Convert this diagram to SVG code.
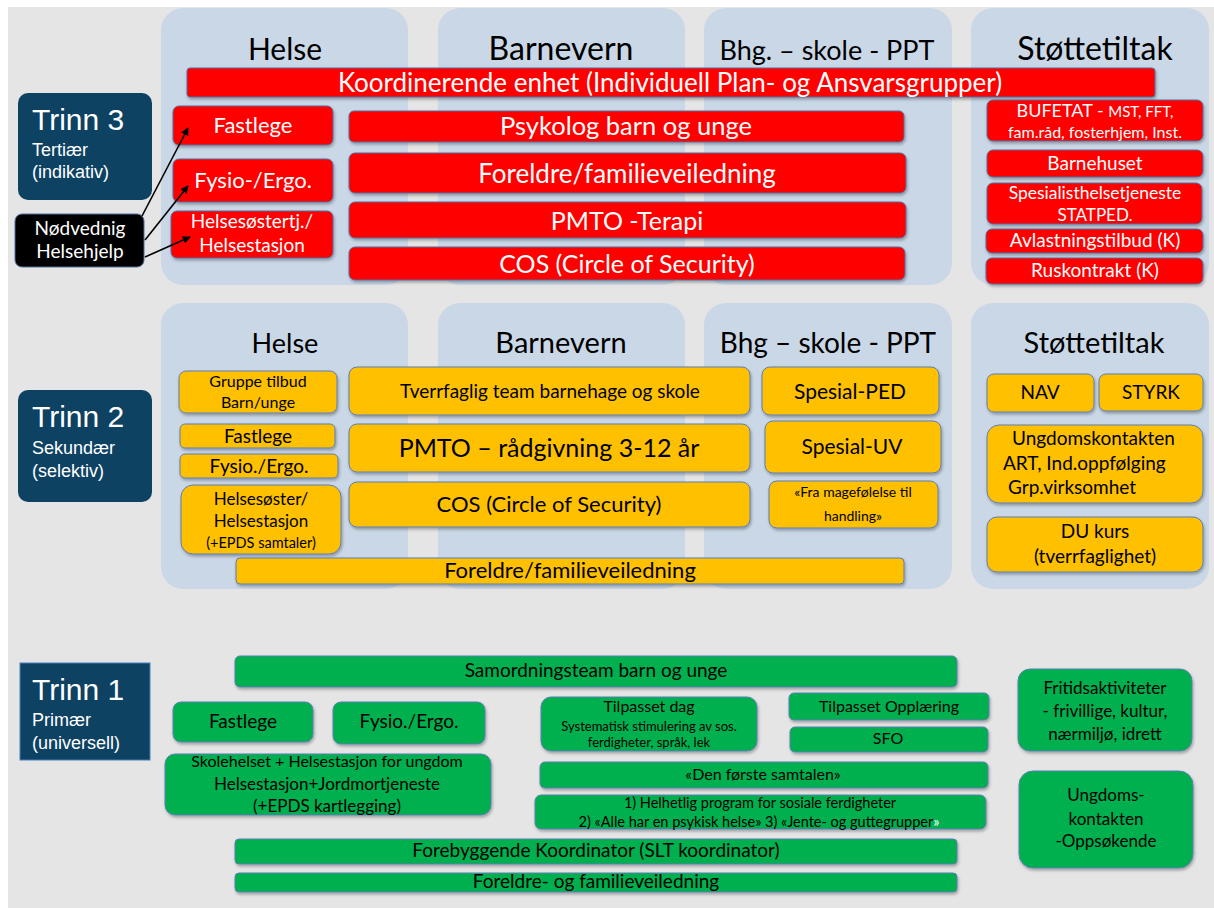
<svg xmlns="http://www.w3.org/2000/svg" width="1214" height="908" viewBox="0 0 1214 908">
<defs>
<style>
.bg{fill:#e5e5e5}
.panel{fill:#cad7e6}
.red{fill:#ff0000;stroke:#4f6fa0;stroke-width:1}
.org{fill:#ffc000;stroke:#5b7fb5;stroke-width:1}
.grn{fill:#00b050;stroke:#5b7fb5;stroke-width:1}
.navy{fill:#0d4263}
.f{font-family:Lato,"Open Sans","DejaVu Sans",sans-serif;text-anchor:middle}
.s{text-anchor:start}
.a{font-family:"Liberation Sans",Arial,sans-serif;fill:#fff}
.w{fill:#fff}
.k{fill:#000}
.conn{stroke:#000;stroke-width:1.6;fill:none}
</style>
<filter id="sh" x="-10%" y="-20%" width="120%" height="150%">
<feDropShadow dx="1" dy="2" stdDeviation="1.5" flood-color="#000" flood-opacity="0.3"/>
</filter>
<marker id="ah" viewBox="0 0 10 10" refX="9" refY="5" markerWidth="8" markerHeight="8" orient="auto" markerUnits="userSpaceOnUse">
<path d="M0,0 L10,5 L0,10 z" fill="#000"/>
</marker>
</defs>
<rect x="0" y="0" width="1214" height="908" fill="#fff"/>
<rect class="bg" x="8" y="7" width="1206" height="901"/>

<g id="panels-top">
<rect class="panel" x="161" y="8" width="247" height="277" rx="22"/>
<rect class="panel" x="438" y="8" width="247" height="277" rx="22"/>
<rect class="panel" x="704" y="8" width="248" height="277" rx="22"/>
<rect class="panel" x="971" y="8" width="238" height="277" rx="22"/>
<text class="f k" x="285" y="60" font-size="30">Helse</text>
<text class="f k" x="561" y="60" font-size="32">Barnevern</text>
<text class="f k" x="827" y="60" font-size="27">Bhg. – skole - PPT</text>
<text class="f k" x="1095" y="60" font-size="32">Støttetiltak</text>
</g>

<g id="koordinerende">
<rect class="red" x="187" y="68" width="968" height="29" rx="3" filter="url(#sh)"/>
<text class="f w" x="670" y="92" font-size="26">Koordinerende enhet (Individuell Plan- og Ansvarsgrupper)</text>
</g>

<g id="trinn3">
<rect class="navy" x="18" y="93" width="134" height="107" rx="10"/>
<text class="a" x="32" y="130" font-size="30">Trinn 3</text>
<text class="a" x="32" y="156" font-size="18">Tertiær</text>
<text class="a" x="32" y="178" font-size="18">(indikativ)</text>
</g>

<g id="nodvendig">
<rect x="15" y="214" width="129" height="53" rx="7" fill="#000" stroke="#4f6fa0"/>
<text class="f w" x="80" y="235" font-size="19">Nødvednig</text>
<text class="f w" x="80" y="258" font-size="19">Helsehjelp</text>
</g>

<g id="t3-fastlege"><rect class="red" x="173" y="106" width="160" height="39" rx="6" filter="url(#sh)"/><text class="f w" x="253" y="133" font-size="22">Fastlege</text></g>
<g id="t3-fysio"><rect class="red" x="173" y="159" width="160" height="43" rx="6" filter="url(#sh)"/><text class="f w" x="253" y="188" font-size="22">Fysio-/Ergo.</text></g>
<g id="t3-helsesoster"><rect class="red" x="171" y="211" width="162" height="47" rx="6" filter="url(#sh)"/><text class="f w" x="252" y="228" font-size="19">Helsesøstertj./</text><text class="f w" x="252" y="252" font-size="19">Helsestasjon</text></g>

<g id="t3-psykolog"><rect class="red" x="349" y="111" width="555" height="31" rx="5" filter="url(#sh)"/><text class="f w" x="626" y="135" font-size="25.5">Psykolog barn og unge</text></g>
<g id="t3-foreldre"><rect class="red" x="349" y="153" width="557" height="40" rx="6" filter="url(#sh)"/><text class="f w" x="627" y="183" font-size="26">Foreldre/familieveiledning</text></g>
<g id="t3-pmto"><rect class="red" x="349" y="202" width="557" height="36" rx="6" filter="url(#sh)"/><text class="f w" x="627" y="230" font-size="25">PMTO -Terapi</text></g>
<g id="t3-cos"><rect class="red" x="349" y="247" width="556" height="33" rx="6" filter="url(#sh)"/><text class="f w" x="627" y="273" font-size="25">COS (Circle of Security)</text></g>

<g id="t3-bufetat"><rect class="red" x="987" y="100" width="216" height="41" rx="6" filter="url(#sh)"/><text class="f w" x="1095" y="117"><tspan font-size="18">BUFETAT - </tspan><tspan font-size="15">MST, FFT,</tspan></text><text class="f w" x="1095" y="138" font-size="16">fam.råd, fosterhjem, Inst.</text></g>
<g id="t3-barnehuset"><rect class="red" x="987" y="150" width="216" height="27" rx="6" filter="url(#sh)"/><text class="f w" x="1095" y="170" font-size="19">Barnehuset</text></g>
<g id="t3-spesialist"><rect class="red" x="987" y="183" width="215" height="41" rx="6" filter="url(#sh)"/><text class="f w" x="1095" y="199" font-size="17.5">Spesialisthelsetjeneste</text><text class="f w" x="1095" y="221" font-size="17">STATPED.</text></g>
<g id="t3-avlastning"><rect class="red" x="986" y="229" width="217" height="24" rx="6" filter="url(#sh)"/><text class="f w" x="1095" y="247" font-size="19">Avlastningstilbud (K)</text></g>
<g id="t3-rus"><rect class="red" x="986" y="258" width="217" height="26" rx="6" filter="url(#sh)"/><text class="f w" x="1095" y="277" font-size="19">Ruskontrakt (K)</text></g>

<g id="panels-mid">
<rect class="panel" x="161" y="303" width="247" height="286" rx="22"/>
<rect class="panel" x="438" y="303" width="247" height="286" rx="22"/>
<rect class="panel" x="704" y="303" width="248" height="286" rx="22"/>
<rect class="panel" x="971" y="303" width="238" height="286" rx="22"/>
<text class="f k" x="285" y="353" font-size="27">Helse</text>
<text class="f k" x="561" y="353" font-size="29">Barnevern</text>
<text class="f k" x="828" y="353" font-size="28">Bhg – skole - PPT</text>
<text class="f k" x="1094" y="353" font-size="29">Støttetiltak</text>
</g>

<g id="trinn2">
<rect class="navy" x="18" y="390" width="134" height="112" rx="10"/>
<text class="a" x="32" y="427" font-size="30">Trinn 2</text>
<text class="a" x="32" y="454" font-size="18">Sekundær</text>
<text class="a" x="32" y="477" font-size="18">(selektiv)</text>
</g>

<g id="t2-gruppe"><rect class="org" x="179" y="371" width="158" height="42" rx="7" filter="url(#sh)"/><text class="f k" x="258" y="387" font-size="16">Gruppe tilbud</text><text class="f k" x="258" y="408" font-size="16">Barn/unge</text></g>
<g id="t2-fastlege"><rect class="org" x="180" y="424" width="155" height="24" rx="5" filter="url(#sh)"/><text class="f k" x="258" y="443" font-size="19">Fastlege</text></g>
<g id="t2-fysio"><rect class="org" x="180" y="454" width="158" height="24" rx="5" filter="url(#sh)"/><text class="f k" x="259" y="473" font-size="19">Fysio./Ergo.</text></g>
<g id="t2-helsesoster"><rect class="org" x="181" y="485" width="160" height="69" rx="12" filter="url(#sh)"/><text class="f k" x="261" y="505" font-size="17">Helsesøster/</text><text class="f k" x="261" y="527" font-size="17">Helsestasjon</text><text class="f k" x="261" y="548" font-size="14.5">(+EPDS samtaler)</text></g>

<g id="t2-tverrfaglig"><rect class="org" x="349" y="367" width="401" height="48" rx="8" filter="url(#sh)"/><text class="f k" x="550" y="398" font-size="19">Tverrfaglig team barnehage og skole</text></g>
<g id="t2-pmto"><rect class="org" x="349" y="424" width="401" height="48" rx="8" filter="url(#sh)"/><text class="f k" x="549" y="457" font-size="25">PMTO – rådgivning 3-12 år</text></g>
<g id="t2-cos"><rect class="org" x="349" y="482" width="401" height="45" rx="8" filter="url(#sh)"/><text class="f k" x="549" y="512" font-size="22">COS (Circle of Security)</text></g>
<g id="t2-spesialped"><rect class="org" x="762" y="367" width="177" height="48" rx="8" filter="url(#sh)"/><text class="f k" x="850" y="399" font-size="21">Spesial-PED</text></g>
<g id="t2-spesialuv"><rect class="org" x="765" y="421" width="176" height="52" rx="8" filter="url(#sh)"/><text class="f k" x="852" y="454" font-size="21">Spesial-UV</text></g>
<g id="t2-fra"><rect class="org" x="769" y="481" width="169" height="47" rx="8" filter="url(#sh)"/><text class="f k" x="853" y="497" font-size="14">«Fra magefølelse til</text><text class="f k" x="853" y="521" font-size="14">handling»</text></g>
<g id="t2-foreldre"><rect class="org" x="236" y="558" width="668" height="26" rx="4" filter="url(#sh)"/><text class="f k" x="570" y="578" font-size="22">Foreldre/familieveiledning</text></g>

<g id="t2-nav"><rect class="org" x="987" y="374" width="107" height="38" rx="7" filter="url(#sh)"/><text class="f k" x="1040" y="399" font-size="19">NAV</text></g>
<g id="t2-styrk"><rect class="org" x="1099" y="374" width="104" height="37" rx="7" filter="url(#sh)"/><text class="f k" x="1151" y="399" font-size="19">STYRK</text></g>
<g id="t2-ungdom"><rect class="org" x="987" y="425" width="216" height="78" rx="12" filter="url(#sh)"/><text class="f k s" x="1012" y="445" font-size="19">Ungdomskontakten</text><text class="f k s" x="1003" y="470" font-size="19">ART, Ind.oppfølging</text><text class="f k s" x="1008" y="494" font-size="19">Grp.virksomhet</text></g>
<g id="t2-du"><rect class="org" x="987" y="517" width="216" height="55" rx="10" filter="url(#sh)"/><text class="f k" x="1095" y="538" font-size="19">DU kurs</text><text class="f k" x="1095" y="563" font-size="19">(tverrfaglighet)</text></g>

<g id="trinn1">
<rect class="navy" x="20" y="663" width="130" height="97" stroke="#4a7ebb" stroke-width="1"/>
<text class="a" x="32" y="700" font-size="30">Trinn 1</text>
<text class="a" x="32" y="726" font-size="18">Primær</text>
<text class="a" x="32" y="749" font-size="18">(universell)</text>
</g>

<g id="t1-samordning"><rect class="grn" x="235" y="656" width="722" height="31" rx="5" filter="url(#sh)"/><text class="f k" x="596" y="677" font-size="19">Samordningsteam barn og unge</text></g>
<g id="t1-fastlege"><rect class="grn" x="173" y="702" width="140" height="40" rx="8" filter="url(#sh)"/><text class="f k" x="243" y="728" font-size="19">Fastlege</text></g>
<g id="t1-fysio"><rect class="grn" x="333" y="702" width="152" height="42" rx="8" filter="url(#sh)"/><text class="f k" x="409" y="728" font-size="19">Fysio./Ergo.</text></g>
<g id="t1-skolehelse"><rect class="grn" x="165" y="754" width="326" height="61" rx="10" filter="url(#sh)"/><text class="f k" x="327" y="767" font-size="16">Skolehelset + Helsestasjon for ungdom</text><text class="f k" x="327" y="790" font-size="17">Helsestasjon+Jordmortjeneste</text><text class="f k" x="327" y="812" font-size="17">(+EPDS kartlegging)</text></g>
<g id="t1-tilpasset-dag"><rect class="grn" x="541" y="697" width="216" height="54" rx="10" filter="url(#sh)"/><text class="f k" x="649" y="712" font-size="16">Tilpasset dag</text><text class="f k" x="649" y="731" font-size="13">Systematisk stimulering av sos.</text><text class="f k" x="649" y="747" font-size="13">ferdigheter, språk, lek</text></g>
<g id="t1-tilpasset-opplaering"><rect class="grn" x="789" y="693" width="200" height="27" rx="5" filter="url(#sh)"/><text class="f k" x="889" y="712" font-size="16">Tilpasset Opplæring</text></g>
<g id="t1-sfo"><rect class="grn" x="790" y="727" width="198" height="25" rx="5" filter="url(#sh)"/><text class="f k" x="888" y="744" font-size="16">SFO</text></g>
<g id="t1-samtalen"><rect class="grn" x="540" y="762" width="448" height="26" rx="5" filter="url(#sh)"/><text class="f k" x="763" y="780" font-size="16">«Den første samtalen»</text></g>
<g id="t1-helhetlig"><rect class="grn" x="535" y="795" width="451" height="34" rx="6" filter="url(#sh)"/><text class="f k" x="760" y="808" font-size="14.5">1) Helhetlig program for sosiale ferdigheter</text><text class="f k" x="759" y="827" font-size="14.5">2) «Alle har en psykisk helse» 3) «Jente- og guttegrupper<tspan fill="#fff">»</tspan></text></g>
<g id="t1-forebyggende"><rect class="grn" x="235" y="839" width="722" height="25" rx="4" filter="url(#sh)"/><text class="f k" x="596" y="857" font-size="19">Forebyggende Koordinator (SLT koordinator)</text></g>
<g id="t1-foreldre"><rect class="grn" x="235" y="873" width="722" height="19" rx="4" filter="url(#sh)"/><text class="f k" x="596" y="888" font-size="19">Foreldre- og familieveiledning</text></g>
<g id="t1-fritid"><rect class="grn" x="1018" y="669" width="174" height="82" rx="12" filter="url(#sh)"/><text class="f k" x="1105" y="694" font-size="17">Fritidsaktiviteter</text><text class="f k" x="1105" y="717" font-size="17">- frivillige, kultur,</text><text class="f k" x="1105" y="740" font-size="17">nærmiljø, idrett</text></g>
<g id="t1-ungdom"><rect class="grn" x="1019" y="771" width="174" height="97" rx="14" filter="url(#sh)" stroke="none"/><text class="f k" x="1106" y="801" font-size="17">Ungdoms-</text><text class="f k" x="1106" y="825" font-size="17">kontakten</text><text class="f k" x="1106" y="847" font-size="17">-Oppsøkende</text></g>

<g id="connectors">
<line class="conn" x1="142" y1="216" x2="188" y2="128" marker-end="url(#ah)"/>
<line class="conn" x1="145" y1="240" x2="188" y2="186" marker-end="url(#ah)"/>
<line class="conn" x1="145" y1="257" x2="190" y2="237" marker-end="url(#ah)"/>
</g>
</svg>
